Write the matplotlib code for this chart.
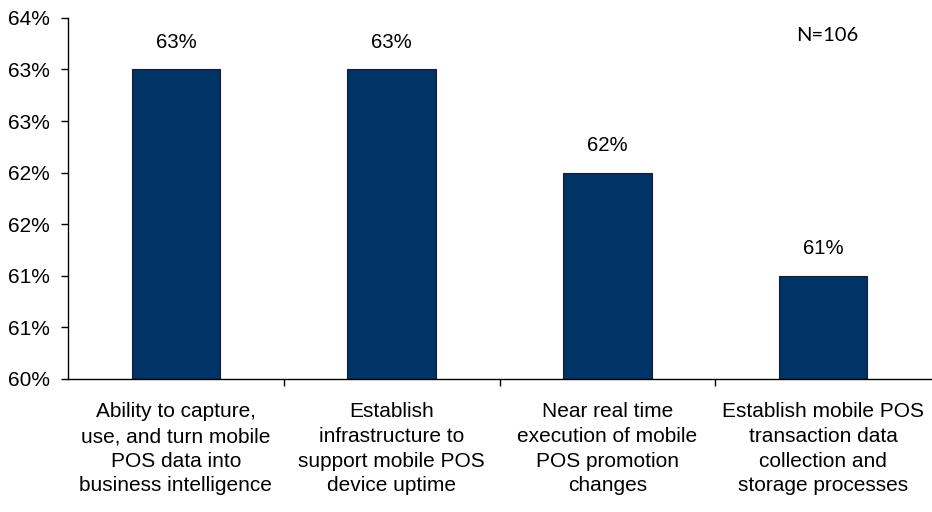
import math
import matplotlib.pyplot as plt
import numpy as np
from matplotlib.ticker import FuncFormatter, FixedLocator

# survey results, share of respondents (%)
categories = [
    "Ability to capture,\nuse, and turn mobile\nPOS data into\nbusiness intelligence",
    "Establish\ninfrastructure to\nsupport mobile POS\ndevice uptime",
    "Near real time\nexecution of mobile\nPOS promotion\nchanges",
    "Establish mobile POS\ntransaction data\ncollection and\nstorage processes",
]
values = [63.0, 63.0, 62.0, 61.0]
y_ticks = [60.0, 60.5, 61.0, 61.5, 62.0, 62.5, 63.0, 63.5]
sample_note = "N=106"

plt.rcParams['font.family'] = ['Liberation Sans', 'DejaVu Sans']

def pct(v, pos=None):
    # round half up, like the spreadsheet does
    return "%d%%" % math.floor(v + 0.5)

fig = plt.figure(figsize=(9.32, 5.12), dpi=100)
ax = fig.add_axes([0.073, 0.26, 0.926, 0.705])

x = np.arange(len(categories))
bars = ax.bar(x, values, width=0.41, color='#003366', edgecolor='#1a1a2e', linewidth=0.8)

for b, v in zip(bars, values):
    ax.text(b.get_x() + b.get_width() / 2, v + 0.17, pct(v),
            ha='center', va='bottom', fontsize=14.7)

ax.set_ylim(60, 63.5)
ax.set_xlim(-0.5, 3.5)
ax.yaxis.set_major_locator(FixedLocator(y_ticks))
ax.yaxis.set_major_formatter(FuncFormatter(pct))
ax.tick_params(axis='y', labelsize=15, length=5, width=1, direction='out', pad=8)

ax.set_xticks(x)
ax.set_xticklabels(categories, fontsize=15, linespacing=1.37)
ax.tick_params(axis='x', which='major', length=0, pad=17)
ax.xaxis.set_minor_locator(FixedLocator([0.5, 1.5, 2.5]))
ax.tick_params(axis='x', which='minor', length=5, width=1, direction='out')

for s in ['top', 'right']:
    ax.spines[s].set_visible(False)
for s in ['left', 'bottom']:
    ax.spines[s].set_linewidth(1)

fig.text(0.854, 0.93, sample_note, ha='left', va='center', fontsize=14.5,
         family=['Lato', 'DejaVu Sans'])

fig.savefig('out.png', dpi=100)
